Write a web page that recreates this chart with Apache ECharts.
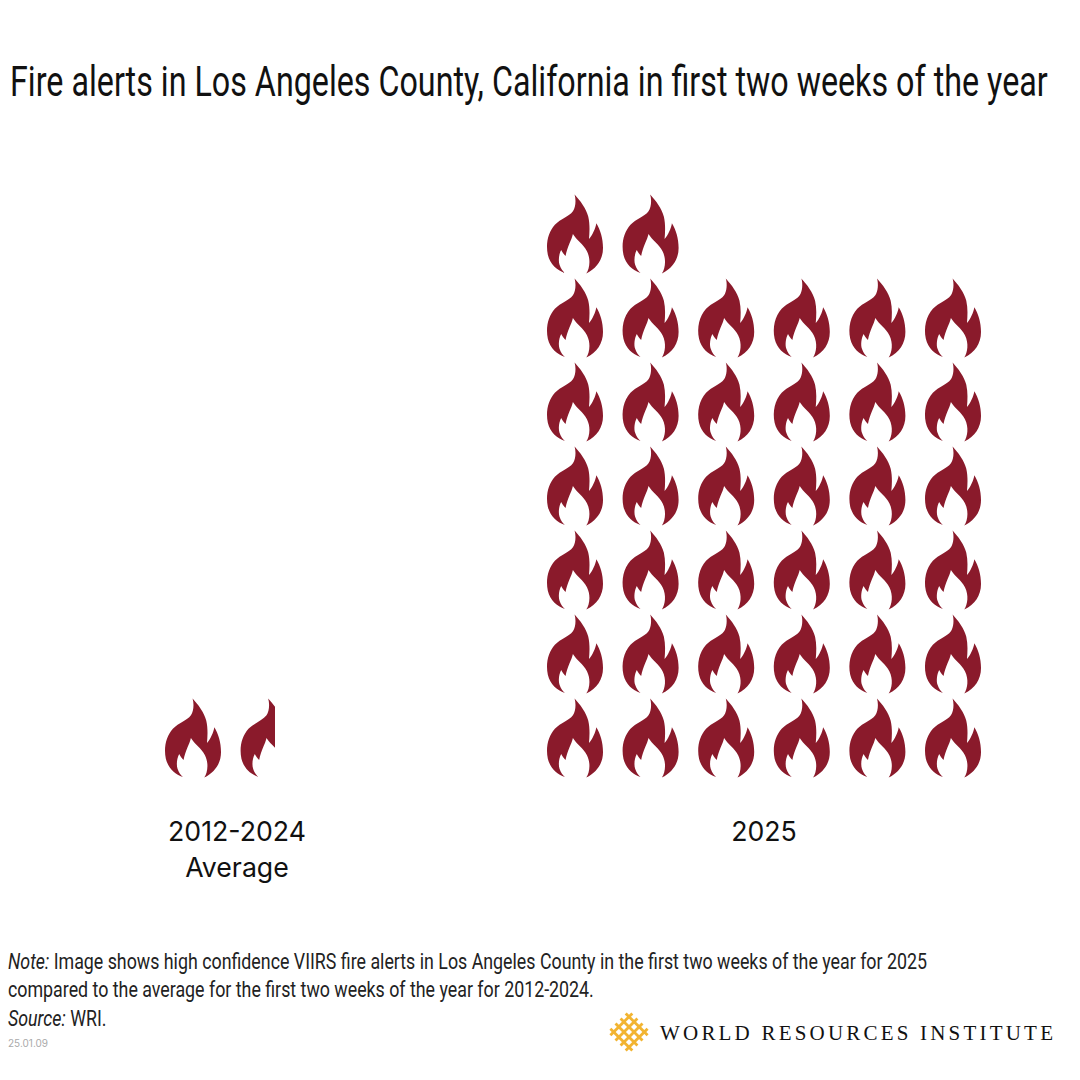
<!DOCTYPE html>
<html>
<head>
<meta charset="utf-8">
<style>
html, body { margin: 0; padding: 0; background: #fff; }
#chart { width: 1080px; height: 1080px; }
/* logo wordmark is spaced out, canvas text can't do that so we use the svg renderer */
#chart svg text[style*="Liberation Serif"] { letter-spacing: 3.2px; }
</style>
</head>
<body>
<div id="chart"></div>
<script src="https://cdn.jsdelivr.net/npm/echarts@6/dist/echarts.min.js"></script>
<script>
// flames per row, bottom row first
const rows = ['1', '2', '3', '4', '5', '6', '7'];
const average2012to2024 = [1.52];
const alerts2025 = [6, 6, 6, 6, 6, 6, 2];
const groupLabels = ['2012-2024\nAverage', '2025'];

const titleText = 'Fire alerts in Los Angeles County, California in first two weeks of the year';
const noteLines = [
    '{i|Note:} Image shows high confidence VIIRS fire alerts in Los Angeles County in the first two weeks of the year for 2025',
    'compared to the average for the first two weeks of the year for 2012-2024.',
    '{i|Source:} WRI.'
];
const dateStamp = '25.01.09';
const orgName = 'WORLD RESOURCES INSTITUTE';

const FLAME_RED = '#8a1a2b';
const LOGO_GOLD = '#f2b431';
const flame = 'path://M83 0 C100 18 118 42 124 66 C129 88 128 112 126 132 C136 120 146 100 148 85 C160 104 168 130 168 158 C168 192 150 218 118 234 C128 218 132 192 120 168 C110 148 88 134 78 117 C74 136 62 152 56 182 C50 176 46 170 43 164 C36 176 34 196 38 208 C42 220 48 228 54 232 C30 224 10 206 3 178 C-4 146 4 112 24 90 C42 72 66 66 78 50 C86 38 88 16 83 0 Z';

function flameSeries(data, axisIndex) {
    return {
        type: 'pictorialBar',
        xAxisIndex: axisIndex,
        yAxisIndex: axisIndex,
        data: data,
        symbol: flame,
        symbolSize: [56, 79],
        symbolRepeat: 6,
        symbolClip: true,
        symbolBoundingData: 6,
        itemStyle: {color: FLAME_RED},
        silent: true
    };
}

function hiddenX(index) {
    return {type: 'value', gridIndex: index, min: 0, max: 6, show: false};
}

function hiddenY(index) {
    return {type: 'category', gridIndex: index, data: rows, show: false};
}

// woven mark of the logo, strips on a rotated square lattice
function logoMark() {
    const strips = [-10.8, -3.6, 3.6, 10.8];
    const children = [];
    strips.forEach(function (o) {
        children.push({type: 'rect', shape: {x: -15.5, y: o - 1.4, width: 31, height: 2.8}, style: {fill: LOGO_GOLD}});
        children.push({type: 'rect', shape: {x: o - 1.4, y: -15.5, width: 2.8, height: 31}, style: {fill: LOGO_GOLD}});
    });
    return {type: 'group', x: 629, y: 1032, rotation: Math.PI / 4, children: children};
}

// the original type is a condensed grotesque, none installed so squeeze Roboto
function squeezedText(text, x, y, size, scaleX, color, lineHeight) {
    return {
        type: 'text', x: x, y: y, scaleX: scaleX,
        style: {
            text: text, fill: color, fontFamily: 'Roboto', fontSize: size, fontWeight: 400, lineHeight: lineHeight,
            rich: {i: {fontFamily: 'Roboto', fontSize: size, fontWeight: 400, fontStyle: 'italic', fill: color, lineHeight: lineHeight}}
        }
    };
}

const option = {
    animation: false,
    backgroundColor: '#fff',
    title: [
        {text: groupLabels[0], left: 237, top: 813, textAlign: 'center', padding: 0, textStyle: {fontFamily: 'Inter', fontSize: 26.7, fontWeight: 400, color: '#111', lineHeight: 36}},
        {text: groupLabels[1], left: 764, top: 813, textAlign: 'center', padding: 0, textStyle: {fontFamily: 'Inter', fontSize: 26.7, fontWeight: 400, color: '#111', lineHeight: 36}},
        {text: dateStamp, left: 8, top: 1038, padding: 0, textStyle: {fontFamily: 'Inter', fontSize: 10, fontWeight: 'normal', color: '#aaa'}},
        {text: orgName, left: 660, top: 1022, padding: 0, textStyle: {fontFamily: '"Liberation Serif"', fontSize: 21, fontWeight: 'normal', color: '#111'}}
    ],
    // both grids share one scale, the left one just runs under the right one
    grid: [
        {left: 165, top: 192, width: 434, height: 588},
        {left: 547, top: 192, width: 434, height: 588}
    ],
    xAxis: [hiddenX(0), hiddenX(1)],
    yAxis: [hiddenY(0), hiddenY(1)],
    series: [flameSeries(average2012to2024, 0), flameSeries(alerts2025, 1)],
    graphic: [
        squeezedText(titleText, 10, 58, 42, 0.7676, '#111', 46),
        squeezedText(noteLines.join('\n'), 8, 947, 22, 0.81, '#222', 28.5),
        logoMark()
    ]
};

const myChart = echarts.init(document.getElementById('chart'), null, {renderer: 'svg'});
myChart.setOption(option);
</script>
</body>
</html>
